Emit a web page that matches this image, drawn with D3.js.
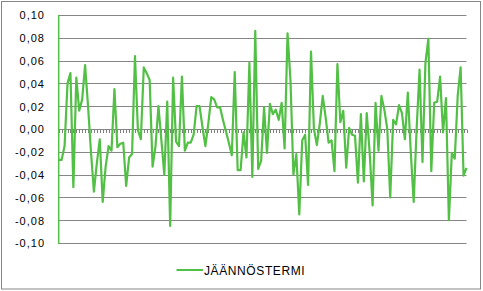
<!DOCTYPE html>
<html>
<head>
<meta charset="utf-8">
<script src="https://cdn.jsdelivr.net/npm/d3@7"></script>
<style>
  html, body { margin: 0; padding: 0; background: #fff; }
  svg { display: block; font-family: "Liberation Sans", Arial, sans-serif; }
</style>
</head>
<body>
<div id="chart"></div>
<script>
// Residual term series (one value per category)
const residuals = [
  -0.027, -0.027, -0.015, 0.040, 0.049, -0.051, 0.045, 0.016, 0.026, 0.056,
  0.020, -0.020, -0.055, -0.030, -0.009, -0.064, -0.033, -0.015, -0.019, 0.035,
  -0.016, -0.013, -0.012, -0.050, -0.025, -0.022, 0.064, -0.001, -0.009, 0.054,
  0.049, 0.043, -0.033, -0.015, 0.020, -0.010, -0.040, 0.024, -0.085, 0.045,
  -0.011, -0.015, 0.046, -0.019, -0.012, -0.012, -0.005, 0.020, 0.020, 0.002,
  -0.015, 0.005, 0.028, 0.026, 0.019, 0.019, 0.008, -0.002, -0.012, -0.023,
  0.050, -0.036, -0.036, -0.003, -0.025, 0.058, -0.042, 0.086, -0.035, -0.028,
  0.019, -0.021, 0.022, 0.013, 0.017, 0.008, 0.023, -0.017, 0.084, 0.043,
  -0.040, -0.022, -0.075, -0.010, -0.005, -0.049, 0.068, 0.000, -0.014, 0.005,
  0.029, 0.010, -0.012, -0.010, -0.037, 0.057, 0.006, 0.016, -0.034, 0.001,
  -0.005, -0.006, -0.047, 0.013, -0.046, 0.014, -0.021, -0.067, 0.023, -0.019,
  0.029, 0.017, 0.000, -0.060, 0.008, 0.004, 0.021, 0.014, -0.009, 0.032,
  -0.020, -0.064, 0.000, 0.052, -0.029, 0.058, 0.079, -0.037, 0.023, 0.024,
  0.046, -0.003, 0.027, -0.080, -0.021, -0.026, 0.029, 0.054, -0.041, -0.034
];
const yTicks = [-0.10, -0.08, -0.06, -0.04, -0.02, 0.00, 0.02, 0.04, 0.06, 0.08, 0.10];
const seriesName = "JÄÄNNÖSTERMI";

const W = 483, H = 291;
const green = "#52bf45";
const grey = "#868686";

const svg = d3.select("#chart").append("svg")
    .attr("width", W)
    .attr("height", H);

// chart area border
svg.append("rect")
    .attr("x", 1.5).attr("y", 1.5)
    .attr("width", 479).attr("height", 287.5)
    .attr("fill", "#fff")
    .attr("stroke", grey);

const x = d3.scalePoint()
    .domain(d3.range(residuals.length))
    .range([58.7, 466.5]);

const y = d3.scaleLinear()
    .domain([-0.1, 0.1])
    .range([243, 15]);

const fi = d3.formatLocale({ decimal: ",", thousands: " ", grouping: [3], currency: ["", "€"], minus: "-" });
const fmt = fi.format(".2f");

// gridlines
svg.append("g")
    .selectAll("line")
    .data(yTicks)
    .join("line")
    .attr("x1", 58.5)
    .attr("x2", 466.5)
    .attr("y1", d => Math.round(y(d)) + 0.5)
    .attr("y2", d => Math.round(y(d)) + 0.5)
    .attr("stroke", grey);

// y tick labels
svg.append("g")
    .selectAll("text")
    .data(yTicks)
    .join("text")
    .attr("x", 45)
    .attr("y", d => y(d) + 4.3)
    .attr("text-anchor", "end")
    .attr("font-size", 11)
    .attr("letter-spacing", 1)
    .attr("fill", "#000")
    .text(d => fmt(d));

// category axis at zero, ticks snapped to whole pixels
const xAxis = d3.axisBottom(x).tickSize(4).tickFormat("").offset(0);
const gx = svg.append("g")
    .attr("transform", `translate(0,${Math.round(y(0))})`)
    .call(xAxis);
gx.select(".domain").attr("stroke", grey).attr("d", `M58.5,0.5H466.5`);
gx.selectAll(".tick")
    .attr("transform", d => `translate(${Math.round(x(d)) + 0.5},0)`);
gx.selectAll(".tick line").attr("stroke", "#808080").attr("y1", 0.5);

// value axis line
svg.append("line")
    .attr("x1", 58.7).attr("x2", 58.7)
    .attr("y1", y(0.1)).attr("y2", y(-0.1) + 1)
    .attr("stroke", green)
    .attr("stroke-width", 1.5);

// series line
const line = d3.line()
    .x((d, i) => x(i))
    .y(d => y(d));

svg.append("path")
    .datum(residuals)
    .attr("fill", "none")
    .attr("stroke", green)
    .attr("stroke-width", 2.2)
    .attr("stroke-linejoin", "round")
    .attr("d", line);

// legend
svg.append("line")
    .attr("x1", 176.5).attr("x2", 203)
    .attr("y1", 270).attr("y2", 270)
    .attr("stroke", green)
    .attr("stroke-width", 2);

svg.append("text")
    .attr("x", 204)
    .attr("y", 274.7)
    .attr("font-size", 12)
    .attr("letter-spacing", 0.6)
    .attr("fill", "#000")
    .text(seriesName);
</script>
</body>
</html>
